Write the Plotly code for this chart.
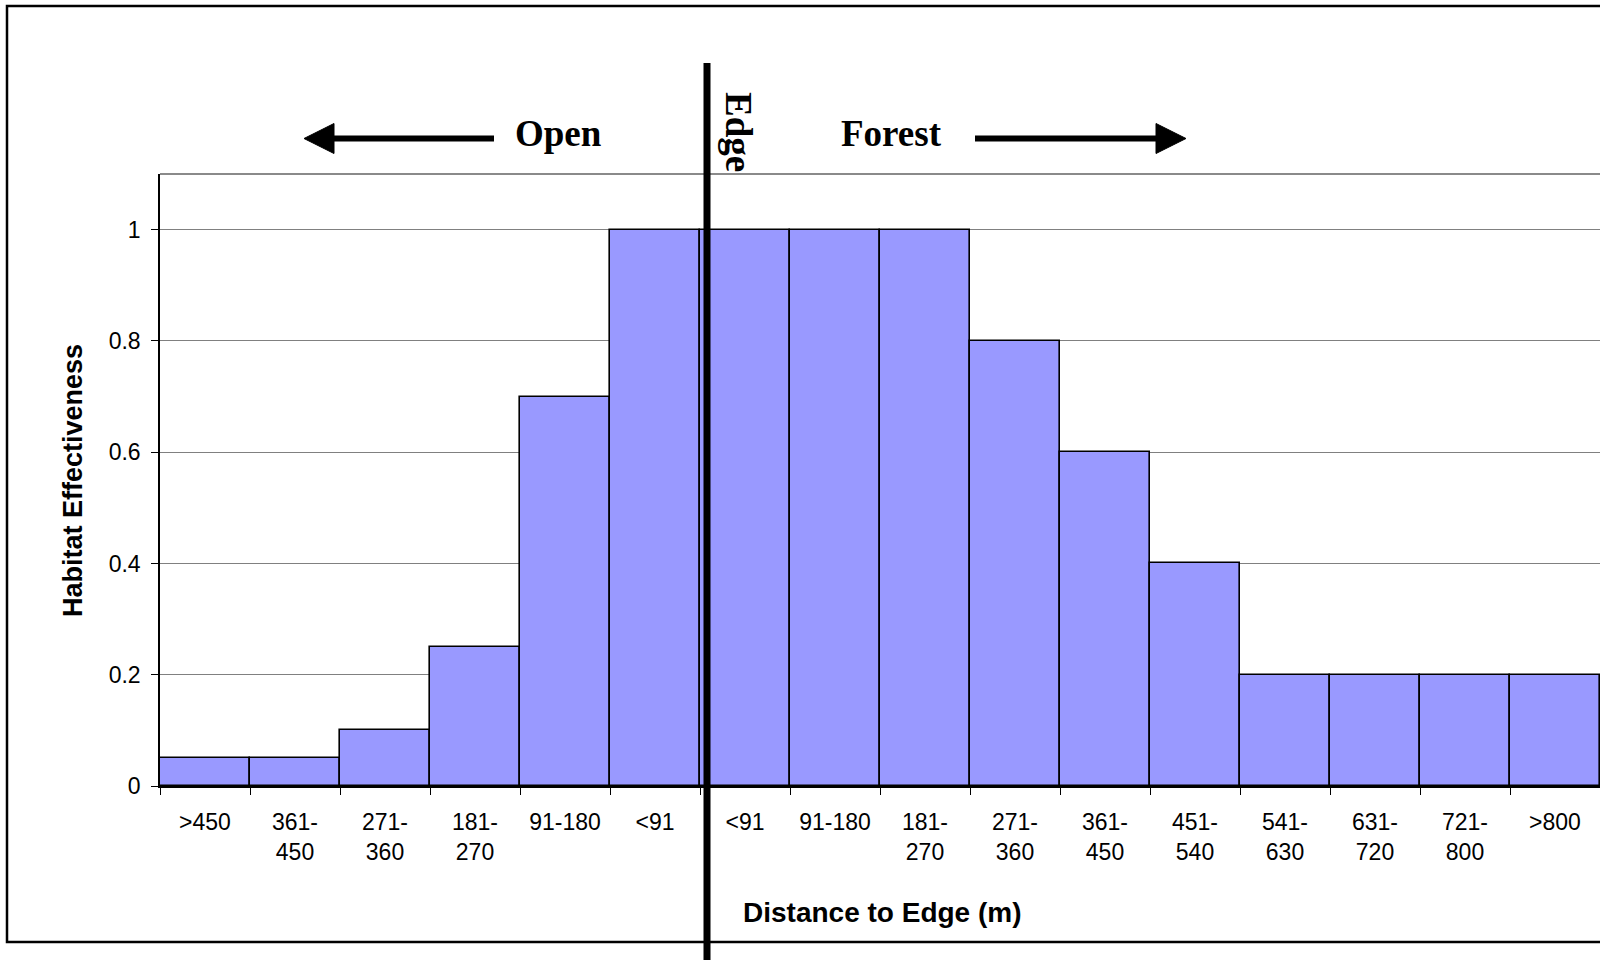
import plotly.graph_objects as go

# ---- data ----
categories = [">450", "361-<br>450", "271-<br>360", "181-<br>270", "91-180", "<91",
              "<91", "91-180", "181-<br>270", "271-<br>360", "361-<br>450", "451-<br>540",
              "541-<br>630", "631-<br>720", "721-<br>800", ">800"]
effectiveness = [0.05, 0.05, 0.10, 0.25, 0.70, 1.00,
                 1.00, 1.00, 1.00, 0.80, 0.60, 0.40,
                 0.20, 0.20, 0.20, 0.20]
y_ticks = [0, 0.2, 0.4, 0.6, 0.8, 1]
y_ticktext = ["0", "0.2", "0.4", "0.6", "0.8", "1"]

W, H = 1600, 960
ML, MR, MT, MB = 160, 0, 174, 174
PW, PH = W - ML - MR, H - MT - MB


def px(x):
    return (x - ML) / PW


def py(y):
    return (H - MB - y) / PH


positions = list(range(len(categories)))

fig = go.Figure()
fig.add_trace(go.Bar(
    x=positions, y=effectiveness,
    marker=dict(color="#9999FF", line=dict(color="black", width=1.6)),
    width=1.0, hoverinfo="y",
))

sans = "Arial, Liberation Sans, Helvetica, sans-serif"
serif = "Times New Roman, Liberation Serif, serif"

fig.update_layout(
    width=W, height=H,
    margin=dict(l=ML, r=MR, t=MT, b=MB, pad=0),
    paper_bgcolor="white", plot_bgcolor="white",
    showlegend=False, bargap=0,
    font=dict(family=sans, color="black"),
    xaxis=dict(
        range=[-0.5, len(categories) - 0.5],
        tickmode="array", tickvals=positions, ticktext=categories,
        ticks="", tickfont=dict(size=23, family=sans, color="black"),
        ticklabelstandoff=14,
        showline=True, linecolor="black", linewidth=2,
        showgrid=False, zeroline=False,
        minor=dict(tickmode="linear", tick0=-0.5, dtick=1, ticks="outside",
                   ticklen=7, tickwidth=1, tickcolor="black", showgrid=False),
    ),
    yaxis=dict(
        range=[0, 1.1],
        tickmode="array", tickvals=y_ticks, ticktext=y_ticktext,
        ticks="outside", ticklen=7, tickwidth=1, tickcolor="black",
        tickfont=dict(size=23, family=sans, color="black"),
        ticklabelstandoff=6,
        showline=True, linecolor="black", linewidth=1.5,
        showgrid=True, gridcolor="#808080", gridwidth=1,
        zeroline=False,
    ),
)

shapes = []
# top border of plot area
shapes.append(dict(type="line", xref="paper", yref="paper", x0=0, x1=1.01, y0=1, y1=1,
                   line=dict(color="#8a8a8a", width=2)))
# outer frame
shapes.append(dict(type="rect", xref="paper", yref="paper",
                   x0=px(7), x1=px(1700), y0=py(942), y1=py(6),
                   line=dict(color="black", width=2.5), layer="above"))
# edge line
shapes.append(dict(type="line", xref="paper", yref="paper",
                   x0=px(707), x1=px(707), y0=py(63), y1=py(980),
                   line=dict(color="black", width=7), layer="above"))
# left arrow
shapes.append(dict(type="line", xref="paper", yref="paper",
                   x0=px(494), x1=px(330), y0=py(138.5), y1=py(138.5),
                   line=dict(color="black", width=6)))
shapes.append(dict(type="path", xref="paper", yref="paper",
                   path=f"M {px(304)} {py(138.5)} L {px(334)} {py(123.5)} L {px(334)} {py(153.5)} Z",
                   fillcolor="black", line=dict(color="black", width=1)))
# right arrow
shapes.append(dict(type="line", xref="paper", yref="paper",
                   x0=px(975), x1=px(1160), y0=py(138.5), y1=py(138.5),
                   line=dict(color="black", width=6)))
shapes.append(dict(type="path", xref="paper", yref="paper",
                   path=f"M {px(1186)} {py(138.5)} L {px(1156)} {py(123.5)} L {px(1156)} {py(153.5)} Z",
                   fillcolor="black", line=dict(color="black", width=1)))
fig.update_layout(shapes=shapes)

annotations = [
    dict(text="<b>Open</b>", x=px(558), y=py(133), xref="paper", yref="paper",
         showarrow=False, xanchor="center", yanchor="middle",
         font=dict(family=serif, size=37, color="black")),
    dict(text="<b>Forest</b>", x=px(891), y=py(133), xref="paper", yref="paper",
         showarrow=False, xanchor="center", yanchor="middle",
         font=dict(family=serif, size=37, color="black")),
    dict(text="<b>Edge</b>", x=px(739), y=py(132), xref="paper", yref="paper",
         showarrow=False, xanchor="center", yanchor="middle", textangle=90,
         font=dict(family=serif, size=37, color="black")),
    dict(text="<b>Habitat Effectiveness</b>", x=px(73), y=py(481), xref="paper", yref="paper",
         showarrow=False, xanchor="center", yanchor="middle", textangle=-90,
         font=dict(family=sans, size=27, color="black")),
    dict(text="<b>Distance to Edge (m)</b>", x=px(882), y=py(912), xref="paper", yref="paper",
         showarrow=False, xanchor="center", yanchor="middle",
         font=dict(family=sans, size=28, color="black")),
]
fig.update_layout(annotations=annotations)

fig.write_html("out.html")
